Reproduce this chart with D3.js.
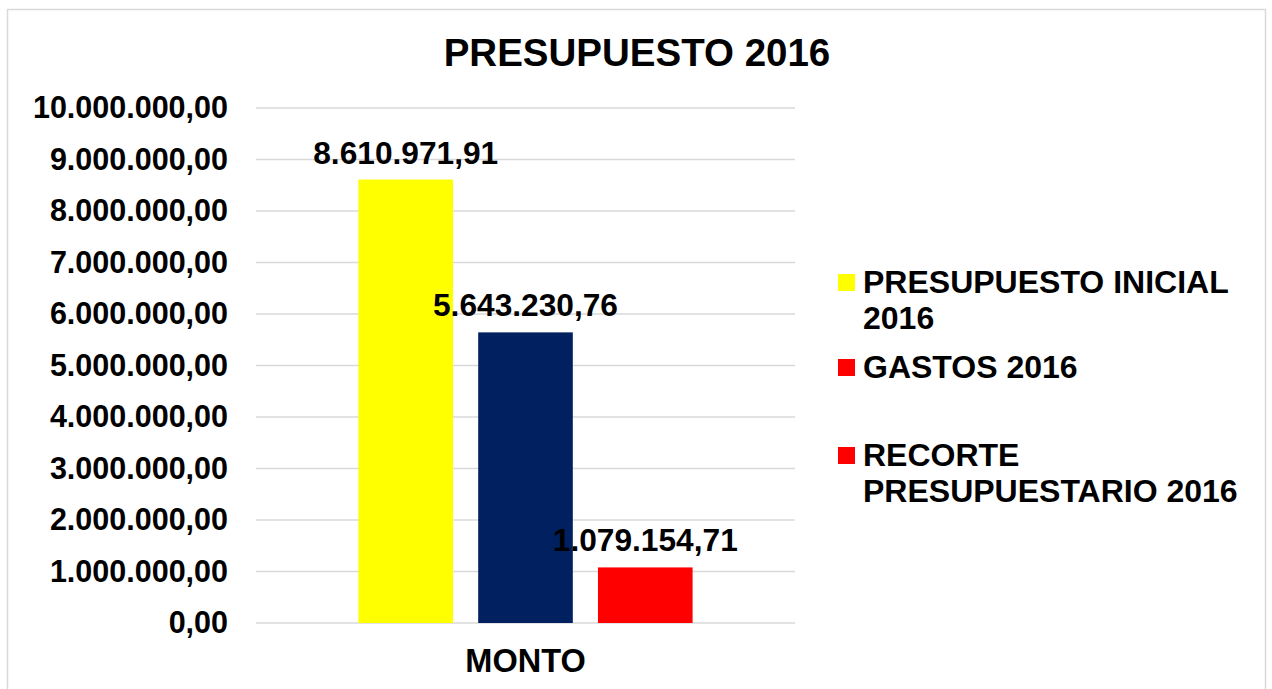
<!DOCTYPE html>
<html>
<head>
<meta charset="utf-8">
<script src="https://cdn.jsdelivr.net/npm/d3@7"></script>
<style>
  body { margin: 0; background: #fff; }
  text { font-family: "Liberation Sans", Arial, sans-serif; font-weight: bold; fill: #000; }
</style>
</head>
<body>
<svg id="chart"></svg>
<script>
// Data
const categories = ["MONTO"];
const seriesNames = ["PRESUPUESTO INICIAL 2016", "GASTOS 2016", "RECORTE PRESUPUESTARIO 2016"];
const seriesValues = [8610971.91, 5643230.76, 1079154.71];
const barColors = ["#ffff00", "#002060", "#ff0000"];
// legend markers as drawn in the original (second marker is red there)
const legendColors = ["#ffff00", "#ff0000", "#ff0000"];
const legendLines = [["PRESUPUESTO INICIAL", "2016"], ["GASTOS 2016"], ["RECORTE", "PRESUPUESTARIO 2016"]];
const yTicks = [0, 1e6, 2e6, 3e6, 4e6, 5e6, 6e6, 7e6, 8e6, 9e6, 10e6];

const width = 1272, height = 689;
const plot = { left: 256, right: 795, top: 108, bottom: 623 };

const locale = d3.formatLocale({ decimal: ",", thousands: ".", grouping: [3], currency: ["", ""] });
const fmt = locale.format(",.2f");

const svg = d3.select("#chart").attr("width", width).attr("height", height);

// chart frame
svg.append("rect")
    .attr("x", 7.5).attr("y", 9.5)
    .attr("width", 1258).attr("height", 700)
    .attr("fill", "#fff").attr("stroke", "#d9d9d9").attr("stroke-width", 1.5);

// Scales
const x0 = d3.scaleBand().domain(categories).range([plot.left, plot.right])
    .paddingInner(0.38).paddingOuter(0.19);
const x1 = d3.scaleBand().domain(seriesNames).range([0, x0.bandwidth()]).paddingInner(0.21);
const y = d3.scaleLinear().domain([0, 10e6]).range([plot.bottom, plot.top]);

// Grid lines
svg.append("g")
    .selectAll("line")
    .data(yTicks)
    .join("line")
    .attr("x1", plot.left).attr("x2", plot.right)
    .attr("y1", d => y(d)).attr("y2", d => y(d))
    .attr("stroke", "#d9d9d9").attr("stroke-width", 1.5);

// Y axis labels
const yAxis = svg.append("g")
    .attr("transform", `translate(${plot.left},0)`)
    .call(d3.axisLeft(y).tickValues(yTicks).tickFormat(fmt).tickSize(0).tickPadding(28));
yAxis.select(".domain").remove();
yAxis.selectAll("text")
    .attr("font-family", "Liberation Sans, Arial, sans-serif")
    .attr("font-weight", "bold")
    .attr("font-size", 30.5)
    .attr("fill", "#000");

// X axis label
const xAxis = svg.append("g")
    .attr("transform", `translate(0,${plot.bottom})`)
    .call(d3.axisBottom(x0).tickSize(0).tickPadding(26));
xAxis.select(".domain").remove();
xAxis.selectAll("text")
    .attr("font-family", "Liberation Sans, Arial, sans-serif")
    .attr("font-weight", "bold")
    .attr("font-size", 32.5)
    .attr("fill", "#000");

// Bars
const data = seriesNames.map((s, i) => ({ cat: categories[0], name: s, value: seriesValues[i], color: barColors[i] }));
const groups = svg.append("g")
    .selectAll("g")
    .data(categories)
    .join("g")
    .attr("transform", d => `translate(${x0(d)},0)`);

groups.selectAll("rect")
    .data(c => data.filter(d => d.cat === c))
    .join("rect")
    .attr("x", d => x1(d.name))
    .attr("y", d => y(d.value))
    .attr("width", x1.bandwidth())
    .attr("height", d => y(0) - y(d.value))
    .attr("fill", d => d.color);

// Value labels
groups.selectAll("text.value")
    .data(c => data.filter(d => d.cat === c))
    .join("text")
    .attr("class", "value")
    .attr("x", d => x1(d.name) + x1.bandwidth() / 2)
    .attr("y", d => y(d.value) - 16)
    .attr("text-anchor", "middle")
    .attr("font-size", 31.7)
    .text(d => fmt(d.value));

// Title
svg.append("text")
    .attr("x", 637).attr("y", 66)
    .attr("text-anchor", "middle")
    .attr("font-size", 38.5)
    .text("PRESUPUESTO 2016");

// Legend
const legendTop = [274, 359, 447];
const legend = svg.append("g")
    .selectAll("g")
    .data(seriesNames)
    .join("g")
    .attr("transform", (d, i) => `translate(838,${legendTop[i]})`);

legend.append("rect")
    .attr("width", 17).attr("height", 17)
    .attr("fill", (d, i) => legendColors[i]);

legend.append("text")
    .attr("x", 25)
    .attr("font-size", 32)
    .selectAll("tspan")
    .data((d, i) => legendLines[i])
    .join("tspan")
    .attr("x", 25)
    .attr("y", (d, j) => 19 + j * 36)
    .text(d => d);
</script>
</body>
</html>
